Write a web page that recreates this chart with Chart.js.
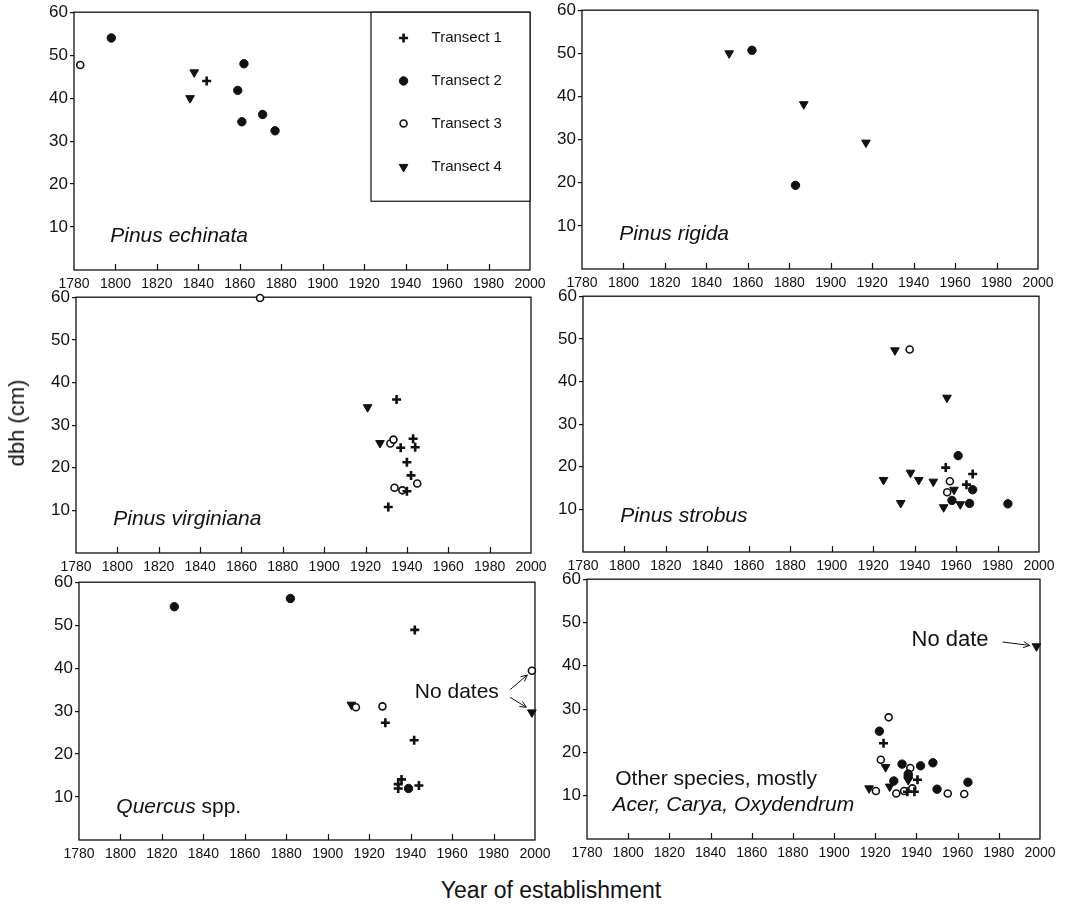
<!DOCTYPE html>
<html lang="en">
<head>
<meta charset="UTF-8">
<title>dbh by year of establishment</title>
<script src="https://cdn.jsdelivr.net/npm/chart.js"></script>
<style>
  body { margin: 0; background: #fff; }
  #wrap { position: relative; width: 1067px; height: 904px; overflow: hidden;
          font-family: "Liberation Sans", Arial, sans-serif; color: #111; }
  #wrap canvas { position: absolute; }
  .lbl { position: absolute; white-space: nowrap; transform: translate(-50%, -50%); }
  #ylab { left: 17px; top: 423px; font-size: 22px; transform: translate(-50%, -50%) rotate(-90deg); }
  #xlab { left: 551px; top: 890px; font-size: 23px; }
</style>
</head>
<body>
<div id="wrap">
  <canvas id="c1"></canvas>
  <canvas id="c2"></canvas>
  <canvas id="c3"></canvas>
  <canvas id="c4"></canvas>
  <canvas id="c5"></canvas>
  <canvas id="c6"></canvas>
  <div class="lbl" id="ylab">dbh (cm)</div>
  <div class="lbl" id="xlab">Year of establishment</div>
</div>
<script>
// axis ticks
const xTicks = [1780, 1800, 1820, 1840, 1860, 1880, 1900, 1920, 1940, 1960, 1980, 2000];
const yTicks = [0, 10, 20, 30, 40, 50, 60];
const transectNames = ['Transect 1', 'Transect 2', 'Transect 3', 'Transect 4'];

// Pinus echinata
const echinataYear     = [1844, 1798, 1862, 1859, 1861, 1871, 1877, 1783, 1838, 1836];
const echinataDbh      = [44, 54, 48, 41.8, 34.5, 36.2, 32.4, 47.7, 46, 40];
const echinataTransect = [1, 2, 2, 2, 2, 2, 2, 3, 4, 4];

// Pinus rigida
const rigidaYear     = [1862, 1883, 1851, 1887, 1917];
const rigidaDbh      = [50.7, 19.4, 50, 38.2, 29.3];
const rigidaTransect = [2, 2, 4, 4, 4];

// Pinus virginiana
const virginianaYear     = [1935, 1937, 1943, 1944, 1940, 1942, 1940, 1931,
                            1869, 1932, 1933.5, 1945, 1934, 1937.8, 1921, 1927];
const virginianaDbh      = [36, 24.7, 26.8, 24.8, 21.3, 18.2, 14.5, 10.8,
                            59.8, 25.7, 26.6, 16.3, 15.3, 14.7, 34.2, 25.8];
const virginianaTransect = [1, 1, 1, 1, 1, 1, 1, 1, 3, 3, 3, 3, 3, 3, 4, 4];

// Pinus strobus
const strobusYear     = [1955, 1968, 1965, 1961, 1968, 1958, 1966.5, 1985, 1937.6, 1957, 1955.7,
                         1930.5, 1955.6, 1938, 1925, 1942, 1949, 1959, 1933.3, 1954, 1962];
const strobusDbh      = [19.8, 18.3, 15.8, 22.6, 14.6, 12.1, 11.4, 11.3, 47.5, 16.6, 14,
                         47.3, 36.2, 18.6, 16.9, 16.9, 16.5, 14.6, 11.5, 10.5, 11.2];
const strobusTransect = [1, 1, 1, 2, 2, 2, 2, 2, 3, 3, 3, 4, 4, 4, 4, 4, 4, 4, 4, 4, 4];

// Quercus spp. (points at ~1998 have no date)
const quercusYear     = [1942, 1927.8, 1941.7, 1935.6, 1934, 1934, 1944, 1826, 1882, 1939,
                         1998.5, 1913.6, 1926.4, 1998.5, 1911.4];
const quercusDbh      = [48.9, 27.3, 23.2, 14.1, 13, 12, 12.7, 54.3, 56.2, 12,
                         39.4, 30.9, 31.1, 29.7, 31.5];
const quercusTransect = [1, 1, 1, 1, 1, 1, 1, 2, 2, 2, 3, 3, 3, 4, 4];

// other species
const otherYear     = [1924, 1940.5, 1935.6, 1939,
                       1922, 1933, 1942, 1948, 1936, 1936, 1929, 1950, 1965,
                       1926.5, 1922.7, 1937, 1920.3, 1930.2, 1934, 1938, 1955.2, 1963.2,
                       1998.3, 1925, 1936, 1927, 1917];
const otherDbh      = [22.1, 13.7, 10.9, 10.9,
                       24.9, 17.3, 16.9, 17.6, 15, 14.4, 13.4, 11.5, 13.1,
                       28.1, 18.3, 16.4, 11.1, 10.5, 11.1, 11.7, 10.5, 10.4,
                       44.5, 16.6, 13.6, 12.1, 11.7];
const otherTransect = [1, 1, 1, 1, 2, 2, 2, 2, 2, 2, 2, 2, 2,
                       3, 3, 3, 3, 3, 3, 3, 3, 3, 4, 4, 4, 4, 4];

const FONT = '"Liberation Sans", Arial, sans-serif';
const INK = '#111';

// marker style per transect
const markerStyles = [
  { pointStyle: 'cross', radius: 4.5, borderWidth: 2.6, backgroundColor: INK, borderColor: INK },
  { pointStyle: 'circle', radius: 4.2, borderWidth: 1, backgroundColor: INK, borderColor: INK },
  { pointStyle: 'circle', radius: 3.5, borderWidth: 1.6, backgroundColor: '#fff', borderColor: INK },
  { pointStyle: 'triangle', radius: 5, rotation: 180, borderWidth: 1, backgroundColor: INK, borderColor: INK }
];

function buildDatasets(years, dbh, transect) {
  return transectNames.map((name, i) => {
    const pts = [];
    years.forEach((y, k) => { if (transect[k] === i + 1) pts.push({ x: y, y: dbh[k] }); });
    const s = markerStyles[i];
    return {
      label: name,
      data: pts,
      pointStyle: s.pointStyle,
      pointRadius: s.radius,
      pointRotation: s.rotation || 0,
      pointBorderWidth: s.borderWidth,
      pointBackgroundColor: s.backgroundColor,
      pointBorderColor: s.borderColor,
      showLine: false,
      clip: false
    };
  });
}

function drawArrow(ctx, x1, y1, x2, y2) {
  const a = Math.atan2(y2 - y1, x2 - x1);
  ctx.beginPath();
  ctx.moveTo(x1, y1);
  ctx.lineTo(x2, y2);
  ctx.moveTo(x2 - 7 * Math.cos(a - 0.45), y2 - 7 * Math.sin(a - 0.45));
  ctx.lineTo(x2, y2);
  ctx.lineTo(x2 - 7 * Math.cos(a + 0.45), y2 - 7 * Math.sin(a + 0.45));
  ctx.stroke();
}

// frame, inward x ticks, labels
const panelDecor = {
  id: 'panelDecor',
  beforeDatasetsDraw(chart) {
    const { ctx, chartArea: a, scales } = chart;
    ctx.save();
    ctx.strokeStyle = INK;
    ctx.lineWidth = 1.3;
    ctx.strokeRect(a.left, a.top, a.right - a.left, a.bottom - a.top);
    ctx.lineWidth = 1.2;
    ctx.beginPath();
    xTicks.slice(1, -1).forEach(v => {
      const px = Math.round(scales.x.getPixelForValue(v)) + 0.5;
      ctx.moveTo(px, a.bottom);
      ctx.lineTo(px, a.bottom - 6);
    });
    ctx.stroke();
    ctx.restore();
  },
  afterDatasetsDraw(chart, args, opts) {
    const { ctx, scales } = chart;
    const X = v => scales.x.getPixelForValue(v);
    const Y = v => scales.y.getPixelForValue(v);
    ctx.save();
    ctx.fillStyle = INK;
    ctx.strokeStyle = INK;
    ctx.textBaseline = 'middle';
    ctx.textAlign = 'left';
    (opts.texts || []).forEach(t => {
      let x = X(t.x);
      t.parts.forEach(p => {
        ctx.font = (p.italic ? 'italic ' : '') + t.size + 'px ' + FONT;
        ctx.fillText(p.s, x, Y(t.y));
        x += ctx.measureText(p.s).width;
      });
    });
    ctx.lineWidth = 1;
    (opts.arrows || []).forEach(r => drawArrow(ctx, X(r[0]), Y(r[1]), X(r[2]), Y(r[3])));

    if (opts.legend) {
      const a = chart.chartArea;
      const lx = X(1923.3), ly = Y(16);
      ctx.fillStyle = '#fff';
      ctx.fillRect(lx, a.top, a.right - lx, ly - a.top);
      ctx.lineWidth = 1.2;
      ctx.strokeRect(lx, a.top, a.right - lx, ly - a.top);
      const rows = [54, 44, 34.1, 24];
      ctx.font = '15px ' + FONT;
      chart.data.datasets.forEach((ds, i) => {
        const s = markerStyles[i];
        ctx.fillStyle = s.backgroundColor;
        ctx.strokeStyle = s.borderColor;
        ctx.lineWidth = s.borderWidth;
        Chart.helpers.drawPoint(ctx, { pointStyle: s.pointStyle, radius: s.radius,
          rotation: s.rotation || 0, borderWidth: s.borderWidth }, X(1939), Y(rows[i]));
        ctx.fillStyle = INK;
        ctx.fillText(ds.label, X(1952.5), Y(rows[i]));
      });
    }
    ctx.restore();
  }
};

const YAXIS_W = 55, PAD_T = 10, PAD_R = 22, XAXIS_H = 28;

function makePanel(id, box, datasets, decor) {
  const cv = document.getElementById(id);
  cv.width = (box.r - box.l) + YAXIS_W + PAD_R;
  cv.height = (box.b - box.t) + PAD_T + XAXIS_H;
  cv.style.left = (box.l - YAXIS_W) + 'px';
  cv.style.top = (box.t - PAD_T) + 'px';
  return new Chart(cv, {
    type: 'scatter',
    data: { datasets },
    plugins: [panelDecor],
    options: {
      responsive: false,
      animation: false,
      devicePixelRatio: 1,
      layout: { padding: { top: PAD_T, right: PAD_R, left: 0, bottom: 0 } },
      plugins: {
        legend: { display: false },
        tooltip: { enabled: false },
        panelDecor: decor
      },
      scales: {
        x: {
          type: 'linear', min: 1780, max: 2000,
          afterBuildTicks: s => { s.ticks = xTicks.map(v => ({ value: v })); },
          afterFit: s => { s.height = XAXIS_H; },
          ticks: { font: { size: 14, family: FONT }, color: INK, padding: 6,
                   maxRotation: 0, autoSkip: false, callback: v => String(v) },
          grid: { display: false, drawTicks: false },
          border: { display: false }
        },
        y: {
          type: 'linear', min: 0, max: 60,
          afterBuildTicks: s => { s.ticks = yTicks.map(v => ({ value: v })); },
          afterFit: s => { s.width = YAXIS_W; },
          ticks: { font: { size: 17, family: FONT }, color: INK, padding: 2,
                   callback: v => (v === 0 ? '' : String(v)) },
          grid: { drawOnChartArea: false, drawTicks: true, tickLength: 4, lineWidth: 1.2,
                  color: c => (c.tick && c.tick.value === 0 ? 'rgba(0,0,0,0)' : INK) },
          border: { display: false }
        }
      }
    }
  });
}

makePanel('c1', { l: 74, t: 10, r: 530, b: 270 },
  buildDatasets(echinataYear, echinataDbh, echinataTransect),
  { legend: true, texts: [{ x: 1797.5, y: 7.8, size: 21, parts: [{ s: 'Pinus echinata', italic: true }] }] });

makePanel('c2', { l: 582, t: 8, r: 1038, b: 269 },
  buildDatasets(rigidaYear, rigidaDbh, rigidaTransect),
  { texts: [{ x: 1798, y: 8, size: 21, parts: [{ s: 'Pinus rigida', italic: true }] }] });

makePanel('c3', { l: 76, t: 295, r: 531, b: 553 },
  buildDatasets(virginianaYear, virginianaDbh, virginianaTransect),
  { texts: [{ x: 1798, y: 7.9, size: 21, parts: [{ s: 'Pinus virginiana', italic: true }] }] });

makePanel('c4', { l: 583, t: 294, r: 1039, b: 552 },
  buildDatasets(strobusYear, strobusDbh, strobusTransect),
  { texts: [{ x: 1798, y: 8.3, size: 21, parts: [{ s: 'Pinus strobus', italic: true }] }] });

makePanel('c5', { l: 79, t: 580, r: 535, b: 840 },
  buildDatasets(quercusYear, quercusDbh, quercusTransect),
  { texts: [{ x: 1798, y: 7.7, size: 21, parts: [{ s: 'Quercus', italic: true }, { s: ' spp.' }] },
            { x: 1942, y: 34.3, size: 21, parts: [{ s: 'No dates' }] }],
    arrows: [[1988, 35, 1996.3, 38.4], [1988, 33.2, 1995.8, 30.9]] });

makePanel('c6', { l: 587, t: 577, r: 1040, b: 839 },
  buildDatasets(otherYear, otherDbh, otherTransect),
  { texts: [{ x: 1793.7, y: 13.7, size: 21, parts: [{ s: 'Other species, mostly' }] },
            { x: 1792.4, y: 7.9, size: 21, parts: [{ s: 'Acer, Carya, Oxydendrum', italic: true }] },
            { x: 1937.6, y: 46, size: 22, parts: [{ s: 'No date' }] }],
    arrows: [[1981.8, 45.5, 1995, 44.7]] });
</script>
</body>
</html>
